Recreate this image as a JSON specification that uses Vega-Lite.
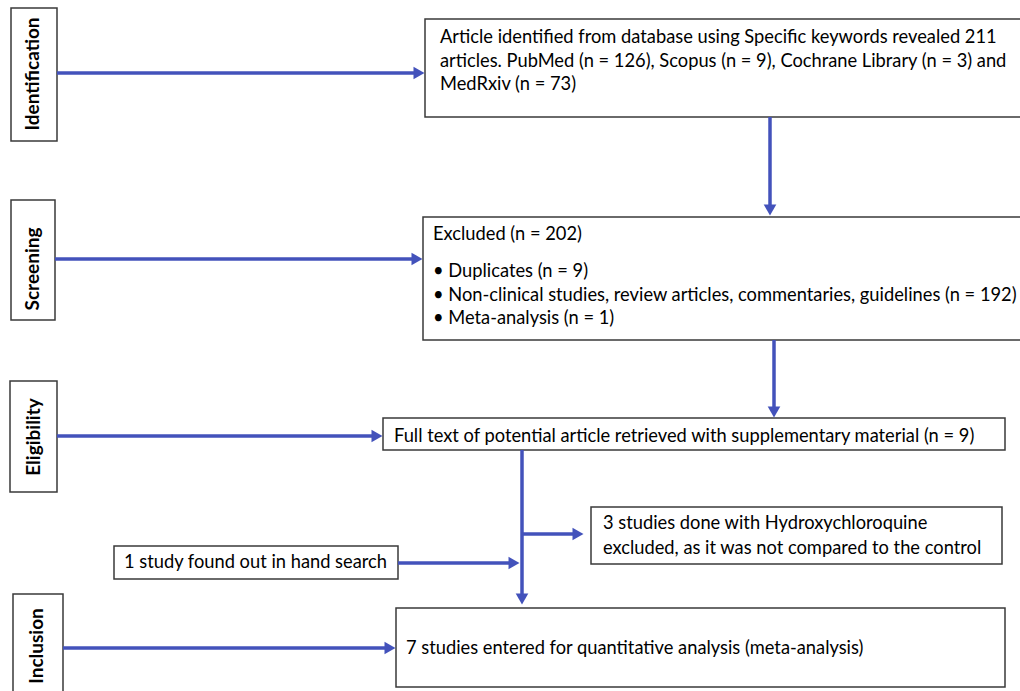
{
  "$schema": "https://vega.github.io/schema/vega-lite/v6.json",
  "width": 1020,
  "height": 691,
  "autosize": {"type": "fit", "contains": "padding"},
  "padding": 0,
  "background": "white",
  "config": {"view": {"stroke": null}},
  "datasets": {
    "boxes": [
      {"id": "Identification", "x": 11, "x2": 57, "y": 8, "y2": 141},
      {"id": "Screening", "x": 11, "x2": 55, "y": 200, "y2": 320},
      {"id": "Eligibility", "x": 10, "x2": 57, "y": 381, "y2": 492},
      {"id": "Inclusion", "x": 13, "x2": 63, "y": 594, "y2": 700},
      {"id": "identified", "x": 425, "x2": 1030, "y": 19, "y2": 117},
      {"id": "excluded", "x": 423, "x2": 1030, "y": 217, "y2": 340},
      {"id": "fulltext", "x": 383, "x2": 1005, "y": 418, "y2": 450},
      {"id": "hcq", "x": 591, "x2": 1002, "y": 507, "y2": 564},
      {"id": "hand", "x": 114, "x2": 398, "y": 546, "y2": 579},
      {"id": "included", "x": 396, "x2": 1005, "y": 608, "y2": 687}
    ],
    "lines": [
      {"id": "a1", "x": 57, "x2": 416, "y": 73, "y2": 73},
      {"id": "a2", "x": 770, "x2": 770, "y": 117, "y2": 208},
      {"id": "a3", "x": 55, "x2": 414, "y": 259, "y2": 259},
      {"id": "a4", "x": 774, "x2": 774, "y": 340, "y2": 410},
      {"id": "a5", "x": 57, "x2": 374, "y": 436, "y2": 436},
      {"id": "a6", "x": 522, "x2": 522, "y": 450, "y2": 597},
      {"id": "a7", "x": 522, "x2": 575, "y": 534, "y2": 534},
      {"id": "a8", "x": 398, "x2": 511, "y": 563, "y2": 563},
      {"id": "a9", "x": 63, "x2": 387, "y": 648, "y2": 648}
    ],
    "heads": [
      {"id": "a1", "x": 419, "y": 73, "dir": "triangle-right"},
      {"id": "a2", "x": 770, "y": 210, "dir": "triangle-down"},
      {"id": "a3", "x": 417, "y": 259, "dir": "triangle-right"},
      {"id": "a4", "x": 774, "y": 412, "dir": "triangle-down"},
      {"id": "a5", "x": 377, "y": 436, "dir": "triangle-right"},
      {"id": "a6", "x": 522, "y": 599, "dir": "triangle-down"},
      {"id": "a7", "x": 578, "y": 534, "dir": "triangle-right"},
      {"id": "a8", "x": 514, "y": 563, "dir": "triangle-right"},
      {"id": "a9", "x": 390, "y": 648, "dir": "triangle-right"}
    ],
    "texts": [
      {"x": 440, "y": 37, "text": "Article identified from database using Specific keywords revealed 211"},
      {"x": 440, "y": 61, "text": "articles. PubMed (n = 126), Scopus (n = 9), Cochrane Library (n = 3) and"},
      {"x": 440, "y": 84, "text": "MedRxiv (n = 73)"},
      {"x": 433, "y": 234, "text": "Excluded (n = 202)"},
      {"x": 433, "y": 271, "text": "• Duplicates (n = 9)"},
      {"x": 433, "y": 295, "text": "• Non-clinical studies, review articles, commentaries, guidelines (n = 192)"},
      {"x": 433, "y": 318, "text": "• Meta-analysis (n = 1)"},
      {"x": 394, "y": 436, "text": "Full text of potential article retrieved with supplementary material (n = 9)"},
      {"x": 603, "y": 523, "text": "3 studies done with Hydroxychloroquine"},
      {"x": 603, "y": 548, "text": "excluded, as it was not compared to the control"},
      {"x": 124, "y": 562, "text": "1 study found out in hand search"},
      {"x": 406, "y": 648, "text": "7 studies entered for quantitative analysis (meta-analysis)"}
    ],
    "labels": [
      {"x": 33, "y": 74, "text": "Identification"},
      {"x": 33, "y": 269, "text": "Screening"},
      {"x": 34, "y": 437, "text": "Eligibility"},
      {"x": 37, "y": 646, "text": "Inclusion"}
    ]
  },
  "layer": [
    {
      "data": {"name": "boxes"},
      "mark": {"type": "rect", "fill": "white", "stroke": "#3a3a3a", "strokeWidth": 1.5, "clip": true},
      "encoding": {
        "x": {"field": "x", "type": "quantitative", "scale": {"domain": [0, 1020], "nice": false, "zero": false}, "axis": null},
        "x2": {"field": "x2"},
        "y": {"field": "y", "type": "quantitative", "scale": {"domain": [0, 691], "nice": false, "zero": false, "reverse": true}, "axis": null},
        "y2": {"field": "y2"}
      }
    },
    {
      "data": {"name": "lines"},
      "mark": {"type": "rule", "color": "#4352bb", "strokeWidth": 3.5},
      "encoding": {
        "x": {"field": "x", "type": "quantitative"},
        "x2": {"field": "x2"},
        "y": {"field": "y", "type": "quantitative"},
        "y2": {"field": "y2"}
      }
    },
    {
      "data": {"name": "heads"},
      "mark": {"type": "point", "filled": true, "color": "#4352bb", "opacity": 1, "size": 160},
      "encoding": {
        "x": {"field": "x", "type": "quantitative"},
        "y": {"field": "y", "type": "quantitative"},
        "shape": {"field": "dir", "type": "nominal", "scale": null}
      }
    },
    {
      "data": {"name": "texts"},
      "mark": {"type": "text", "align": "left", "baseline": "middle", "font": "Lato", "fontSize": 18.3, "dy": 1, "color": "#000"},
      "encoding": {
        "x": {"field": "x", "type": "quantitative"},
        "y": {"field": "y", "type": "quantitative"},
        "text": {"field": "text"}
      }
    },
    {
      "data": {"name": "labels"},
      "mark": {"type": "text", "align": "center", "baseline": "middle", "font": "Lato", "fontSize": 19, "fontWeight": "bold", "angle": 270, "color": "#000"},
      "encoding": {
        "x": {"field": "x", "type": "quantitative"},
        "y": {"field": "y", "type": "quantitative"},
        "text": {"field": "text"}
      }
    }
  ]
}
